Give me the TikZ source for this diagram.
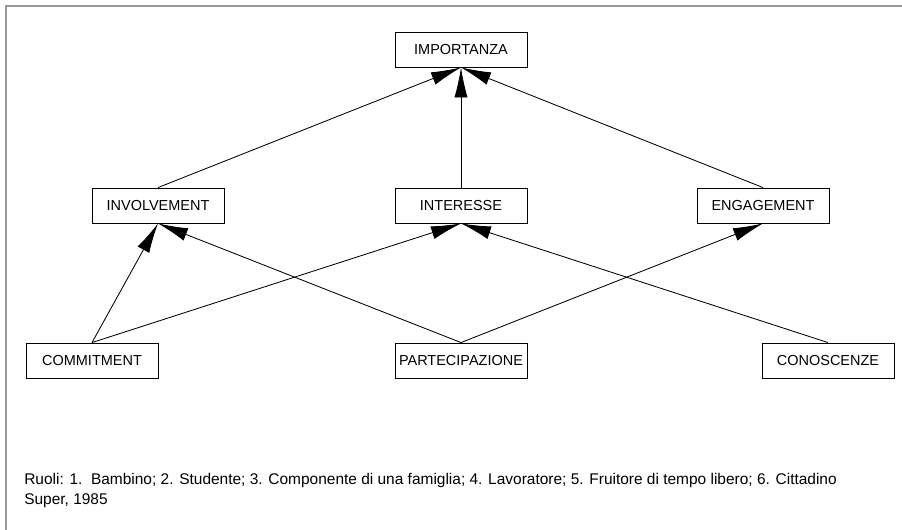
\documentclass[tikz,border=0pt]{standalone}
\usepackage{fontspec}
\setmainfont{Liberation Sans}
\usetikzlibrary{arrows.meta}
\usetikzlibrary{positioning}

\begin{document}
\begin{tikzpicture}[x=0.025cm, y=-0.025cm,
		ruolo/.style={draw, line width=0.6pt, minimum width=3.3cm, minimum height=0.875cm, inner sep=0pt, font=\fontsize{10.3}{12}\selectfont},
		freccia/.style={-{Latex[length=0.75cm,width=0.33cm]}, line width=0.6pt}]
	% page size
	\useasboundingbox (0,0) rectangle (902,530);
	% draw frame
	\draw[black!40, line width=1.2pt] (6,530) -- (6,6) -- (902,6);
	% top row
	\node[ruolo] (importanza) at (461,49.5) {IMPORTANZA};
	% middle row
	\node[ruolo] (involvement) at (158,205.5) {INVOLVEMENT};
	\node[ruolo] (interesse) at (461,205.5) {INTERESSE};
	\node[ruolo] (engagement) at (763,205.5) {ENGAGEMENT};
	% bottom row
	\node[ruolo] (commitment) at (92,360.5) {COMMITMENT};
	\node[ruolo] (partecipazione) at (461,360.5) {PARTECIPAZIONE};
	\node[ruolo] (conoscenze) at (828,360.5) {CONOSCENZE};
	% add arrows
	\draw[freccia] (involvement.north) -- (importanza.south);
	\draw[freccia] (interesse.north) -- (importanza.south);
	\draw[freccia] (engagement.north) -- (importanza.south);
	\draw[freccia] (commitment.north) -- (involvement.south);
	\draw[freccia] (commitment.north) -- (interesse.south);
	\draw[freccia] (partecipazione.north) -- (involvement.south);
	\draw[freccia] (partecipazione.north) -- (engagement.south);
	\draw[freccia] (conoscenze.north) -- (interesse.south);
	% caption
	\node[anchor=north west, align=left, inner sep=0pt, font=\fontsize{11}{14.2}\selectfont] (didascalia) at (24,473)
		{Ruoli: 1.\ \ Bambino; 2. Studente; 3. Componente di una famiglia; 4. Lavoratore; 5. Fruitore di tempo libero; 6. Cittadino\\
		Super, 1985};
\end{tikzpicture}
\end{document}
